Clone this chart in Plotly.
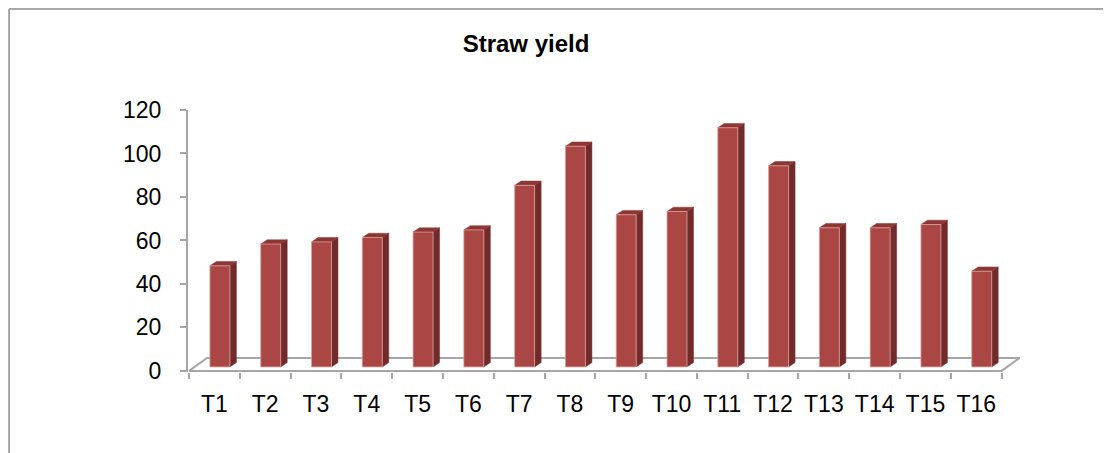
import plotly.graph_objects as go

# ---------------- data ----------------
categories = ["T1", "T2", "T3", "T4", "T5", "T6", "T7", "T8",
              "T9", "T10", "T11", "T12", "T13", "T14", "T15", "T16"]
values = [46.5, 56.5, 57.5, 59.5, 62, 63, 83.5, 101.5,
          70, 71.5, 110, 92.5, 64, 64, 65.5, 44]
y_ticks = [0, 20, 40, 60, 80, 100, 120]
title_text = "Straw yield"

# ---------------- style / geometry ----------------
OFF = 8                      # default page body margin
W, H = 1111 - OFF, 453 - OFF
X_RANGE = [-0.02, 16.5]
Y_RANGE = [-0.5, 120]
M_L, M_T = 188 - OFF, 110 - OFF
XU = 50.8125          # px per category unit
YU = 2.175            # px per value unit
plot_w = (X_RANGE[1] - X_RANGE[0]) * XU
plot_h = (Y_RANGE[1] - Y_RANGE[0]) * YU
M_R = W - M_L - plot_w
M_B = H - M_T - plot_h

# 3-D look offsets (in axis units)
FLOOR_DX, FLOOR_DY = 18 / XU, 13 / YU
BAR_DX, BAR_DY = 5.5 / XU, 4 / YU
BAR_W = 20 / XU
SIDE_DX, SIDE_DY = 6.5 / XU, 4.3 / YU

FRONT = "#AA4643"
SIDE = "#722B2A"
TOP = "#8E3633"
EDGE = "#D9A3A1"
GRID = "#A6A6A6"
FONT = "Liberation Sans"

fig = go.Figure()

n = len(categories)
# floor outline
fig.add_trace(go.Scatter(
    x=[0, n, n + FLOOR_DX, FLOOR_DX, 0],
    y=[0, 0, FLOOR_DY, FLOOR_DY, 0],
    mode="lines", line=dict(color=GRID, width=2),
    hoverinfo="skip", showlegend=False))

for i, v in enumerate(values):
    cx = i + 0.5 + BAR_DX
    x0, x1 = cx - BAR_W / 2, cx + BAR_W / 2
    b, t = BAR_DY, v + BAR_DY
    # side face
    fig.add_trace(go.Scatter(
        x=[x1, x1 + SIDE_DX, x1 + SIDE_DX, x1, x1],
        y=[b, b + SIDE_DY, t + SIDE_DY, t, b],
        fill="toself", fillcolor=SIDE, mode="lines",
        line=dict(color=SIDE, width=0.5),
        hoverinfo="skip", showlegend=False))
    # top face
    fig.add_trace(go.Scatter(
        x=[x0, x1, x1 + SIDE_DX, x0 + SIDE_DX, x0],
        y=[t, t, t + SIDE_DY, t + SIDE_DY, t],
        fill="toself", fillcolor=TOP, mode="lines",
        line=dict(color=TOP, width=0.5),
        hoverinfo="skip", showlegend=False))
    # front face
    fig.add_trace(go.Scatter(
        x=[x0, x1, x1, x0, x0],
        y=[b, b, t, t, b],
        fill="toself", fillcolor=FRONT, mode="lines",
        line=dict(color=EDGE, width=0.8),
        name=categories[i], hoverinfo="skip", showlegend=False))

# chart frame (top and left edges)
fx = (1 - M_L) / plot_w
fy = 1 + (M_T - 1) / plot_h
fb = -(M_B) / plot_h
fr = 1 + M_R / plot_w
fig.add_shape(type="line", xref="paper", yref="paper",
              x0=fx, x1=fr, y0=fy, y1=fy,
              line=dict(color="#8A8A8A", width=1.5))
fig.add_shape(type="line", xref="paper", yref="paper",
              x0=fx, x1=fx, y0=fy, y1=fb,
              line=dict(color="#8A8A8A", width=1.5))

fig.update_layout(
    width=W, height=H,
    margin=dict(l=M_L, r=M_R, t=M_T, b=M_B, pad=0),
    paper_bgcolor="white", plot_bgcolor="white",
    title=dict(text="<b>" + title_text + "</b>", x=(526 - OFF) / W,
               xanchor="center", xref="container",
               y=1 - (44 - OFF) / H, yanchor="middle",
               font=dict(family=FONT, size=24, color="black")),
    font=dict(family=FONT, size=23, color="black"),
    xaxis=dict(range=X_RANGE, showgrid=False, zeroline=False, showline=False,
               tickmode="array", tickvals=[i + 0.5 for i in range(n)],
               ticktext=categories, ticks="", ticklabelstandoff=16,
               tickfont=dict(family=FONT, size=23, color="black"),
               minor=dict(tickmode="array", tickvals=list(range(n + 1)),
                          ticks="outside", ticklen=6, tickwidth=1.5,
                          tickcolor=GRID, showgrid=False)),
    yaxis=dict(range=Y_RANGE, showgrid=False, zeroline=False,
               showline=True, linecolor=GRID, linewidth=2,
               tickmode="array", tickvals=y_ticks,
               ticks="outside", ticklen=6, tickwidth=1.5, tickcolor=GRID,
               ticklabelstandoff=14,
               tickfont=dict(family=FONT, size=23, color="black")),
)

fig.write_html("out.html")
